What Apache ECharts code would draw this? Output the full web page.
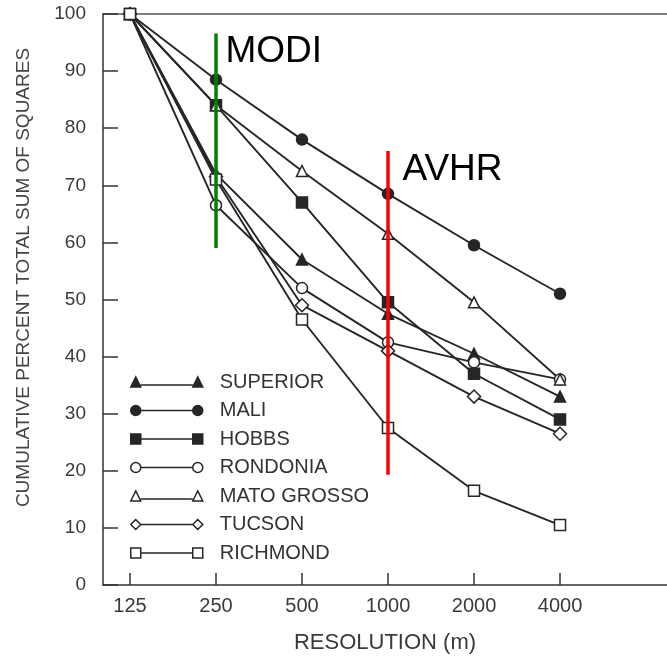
<!DOCTYPE html>
<html>
<head>
<meta charset="utf-8">
<script src="https://cdn.jsdelivr.net/npm/echarts@6/dist/echarts.min.js"></script>
<style>
html, body { margin: 0; padding: 0; background: #fff; }
#chart { width: 667px; height: 659px; }
</style>
</head>
<body>
<div id="chart"></div>
<script>
// resolutions (m) on the x axis, log2-spaced
const resolutions = [125, 250, 500, 1000, 2000, 4000];

// cumulative percent total sum of squares, one array per site
const superior   = [100, 72, 57, 47.5, 40.5, 33];
const mali       = [100, 88.5, 78, 68.5, 59.5, 51];
const hobbs      = [100, 84, 67, 49.5, 37, 29];
const rondonia   = [100, 66.5, 52, 42.5, 39, 36];
const matoGrosso = [100, 84, 72.5, 61.5, 49.5, 36];
const tucson     = [100, 71.5, 49, 41, 33, 26.5];
const richmond   = [100, 71, 46.5, 27.5, 16.5, 10.5];

// sensor markers: resolution and vertical span
const modiRes = 250;
const modiSpan = [59, 96.6];
const avhrRes = 1000;
const avhrSpan = [19.3, 76];

const xOf = r => Math.log2(r / 125);
const ink = '#262626';

// legend icons: symbol, line, symbol (72 x 10)
const icons = {
  triangle: 'path://M0 10L5 0L10 10Z M10 8L62 8 M62 10L67 0L72 10Z',
  circle: 'path://M0 5A5 5 0 1 1 10 5A5 5 0 1 1 0 5Z M10 5L62 5 M62 5A5 5 0 1 1 72 5A5 5 0 1 1 62 5Z',
  rect: 'path://M0 0H10V10H0Z M10 5L62 5 M62 0H72V10H62Z',
  diamond: 'path://M0 5L5 0L10 5L5 10Z M10 5L62 5 M62 5L67 0L72 5L67 10Z'
};

const sites = [
  { name: 'SUPERIOR', values: superior, symbol: 'triangle', filled: true },
  { name: 'MALI', values: mali, symbol: 'circle', filled: true },
  { name: 'HOBBS', values: hobbs, symbol: 'rect', filled: true },
  { name: 'RONDONIA', values: rondonia, symbol: 'circle', filled: false },
  { name: 'MATO GROSSO', values: matoGrosso, symbol: 'triangle', filled: false },
  { name: 'TUCSON', values: tucson, symbol: 'diamond', filled: false },
  { name: 'RICHMOND', values: richmond, symbol: 'rect', filled: false }
];

const styleOf = s => ({
  color: s.filled ? ink : '#fff',
  borderColor: ink,
  borderWidth: 1.5
});

const siteSeries = sites.map(s => ({
  name: s.name,
  type: 'line',
  data: s.values.map((v, i) => [xOf(resolutions[i]), v]),
  symbol: s.symbol,
  symbolSize: s.symbol === 'diamond' ? 13 : 11,
  lineStyle: { color: ink, width: 1.9 },
  itemStyle: styleOf(s),
  z: 2
}));

const sensorSeries = (name, res, span, color, dist, off) => ({
  name: name,
  type: 'line',
  data: [
    [xOf(res), span[0]],
    {
      value: [xOf(res), span[1]],
      label: {
        show: true,
        formatter: name,
        position: 'right',
        distance: dist,
        offset: [0, off],
        fontSize: 37,
        fontFamily: 'Liberation Sans, Arial, sans-serif',
        color: '#000'
      }
    }
  ],
  symbol: 'circle',
  symbolSize: 1,
  itemStyle: { color: 'transparent' },
  lineStyle: { color: color, width: 3.5 },
  z: 5
});

const chart = echarts.init(document.getElementById('chart'));
chart.setOption({
  animation: false,
  backgroundColor: '#fff',
  textStyle: { fontFamily: 'Liberation Sans, Arial, sans-serif' },
  grid: { left: 103, right: 0, top: 14, bottom: 74 },
  legend: {
    orient: 'vertical',
    left: 125,
    top: 367,
    itemWidth: 72,
    itemHeight: 10,
    itemGap: 8.5,
    selectedMode: false,
    textStyle: {
      fontSize: 20,
      color: '#333',
      padding: [0, 0, 0, 12]
    },
    data: sites.map(s => ({
      name: s.name,
      icon: icons[s.symbol],
      itemStyle: styleOf(s)
    }))
  },
  xAxis: [{
    type: 'value',
    min: -0.314,
    max: 6.244,
    name: 'RESOLUTION (m)',
    nameLocation: 'middle',
    nameGap: 47,
    nameTextStyle: { fontSize: 22, color: '#3a3a3a' },
    axisLine: { onZero: false, lineStyle: { color: '#333', width: 1.5 } },
    axisTick: {
      inside: true,
      length: 12,
      customValues: resolutions.map(xOf),
      lineStyle: { color: '#333', width: 1.5 }
    },
    axisLabel: {
      customValues: resolutions.map(xOf),
      formatter: v => String(Math.round(125 * Math.pow(2, v))),
      fontSize: 20,
      color: '#3a3a3a',
      margin: 11
    },
    splitLine: { show: false }
  }, {
    type: 'value',
    position: 'top',
    min: -0.314,
    max: 6.244,
    axisLine: { show: true, onZero: false, lineStyle: { color: '#555', width: 1.5 } },
    axisTick: { show: false },
    axisLabel: { show: false },
    splitLine: { show: false }
  }],
  yAxis: {
    type: 'value',
    min: 0,
    max: 100,
    interval: 10,
    name: 'CUMULATIVE PERCENT TOTAL SUM OF SQUARES',
    nameLocation: 'middle',
    nameGap: 70,
    nameTextStyle: { fontSize: 19, color: '#444', padding: [0, 0, 0, 44] },
    axisLine: { show: true, onZero: false, lineStyle: { color: '#333', width: 1.5 } },
    axisTick: { inside: true, length: 15, lineStyle: { color: '#333', width: 1.5 } },
    axisLabel: { fontSize: 19, color: '#3a3a3a', margin: 17 },
    splitLine: { show: false }
  },
  series: siteSeries.concat([
    sensorSeries('MODI', modiRes, modiSpan, '#008000', 9, 18),
    sensorSeries('AVHR', avhrRes, avhrSpan, '#ff0000', 14, 19)
  ])
});
</script>
</body>
</html>
